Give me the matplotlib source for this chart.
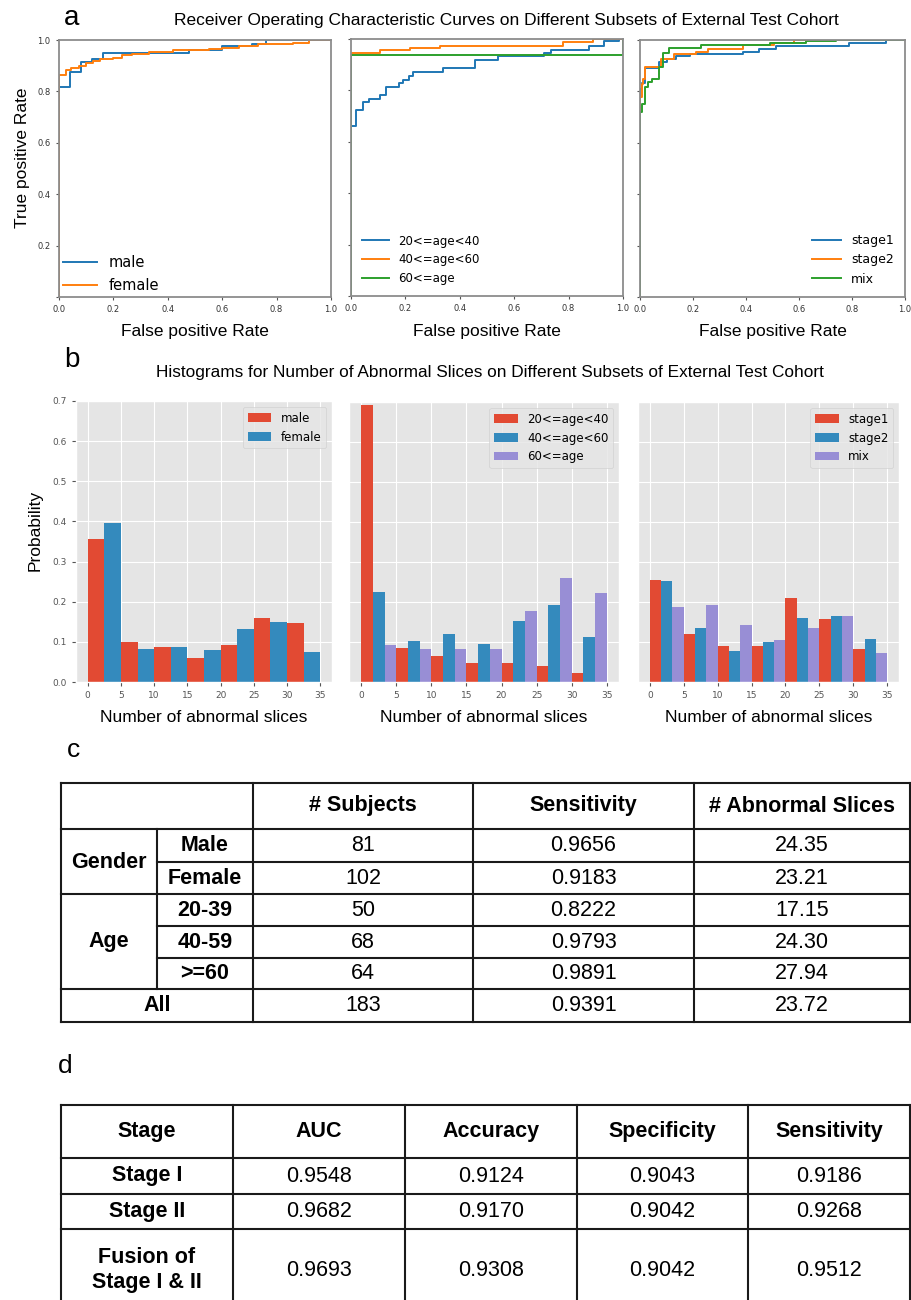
''' Composite figure: ROC curves, abnormal-slice histograms and two summary tables '''

import numpy as np
import matplotlib
matplotlib.use('Agg')
import matplotlib.pyplot as plt

W, H = 911, 1300
SANS = 'Liberation Sans'

### panel a : ROC curves (step corners)
roc_titles = 'Receiver Operating Characteristic Curves on Different Subsets of External Test Cohort'

male_fpr = [0, 0, 0.041, 0.08, 0.12, 0.16, 0.478, 0.6, 0.71, 0.76, 1.0]
male_tpr = [0, 0.817, 0.874, 0.916, 0.925, 0.951, 0.962, 0.975, 0.985, 1.0, 1.0]
female_fpr = [0, 0, 0.027, 0.045, 0.075, 0.1, 0.125, 0.15, 0.2, 0.23, 0.27, 0.33, 0.42,
              0.55, 0.6, 0.66, 0.73, 0.86, 0.92, 1.0]
female_tpr = [0, 0.865, 0.885, 0.89, 0.9, 0.91, 0.92, 0.925, 0.93, 0.94, 0.945, 0.955, 0.96,
              0.965, 0.97, 0.975, 0.985, 0.99, 1.0, 1.0]

age20_fpr = [0, 0, 0.02, 0.044, 0.068, 0.105, 0.13, 0.178, 0.19, 0.215, 0.227, 0.337, 0.456,
             0.54, 0.71, 0.735, 0.875, 0.93, 0.985, 1.0]
age20_tpr = [0, 0.662, 0.725, 0.753, 0.768, 0.783, 0.813, 0.829, 0.842, 0.857, 0.871, 0.887,
             0.919, 0.932, 0.945, 0.958, 0.974, 0.991, 1.0, 1.0]
age40_fpr = [0, 0, 0.107, 0.217, 0.327, 0.78, 0.89, 1.0]
age40_tpr = [0, 0.945, 0.956, 0.964, 0.974, 0.987, 1.0, 1.0]
age60_fpr = [0, 0, 1.0, 1.0]
age60_tpr = [0, 0.938, 0.938, 1.0]

stage1_fpr = [0, 0, 0.008, 0.02, 0.073, 0.1, 0.135, 0.19, 0.39, 0.45, 0.515, 0.79, 0.93, 1.0]
stage1_tpr = [0, 0.808, 0.834, 0.89, 0.916, 0.925, 0.938, 0.945, 0.955, 0.964, 0.977, 0.987,
              1.0, 1.0]
stage2_fpr = [0, 0, 0.008, 0.012, 0.02, 0.08, 0.13, 0.21, 0.255, 0.39, 0.505, 0.58, 1.0]
stage2_tpr = [0, 0.78, 0.83, 0.85, 0.896, 0.925, 0.945, 0.955, 0.964, 0.98, 0.99, 1.0, 1.0]
mix_fpr = [0, 0, 0.008, 0.017, 0.03, 0.045, 0.073, 0.085, 0.11, 0.23, 0.49, 0.625, 0.74, 1.0]
mix_tpr = [0, 0.72, 0.75, 0.818, 0.837, 0.847, 0.896, 0.948, 0.968, 0.981, 0.987, 0.997,
           1.0, 1.0]

### panel b : histograms (probability per bin of width 5)
hist_title = 'Histograms for Number of Abnormal Slices on Different Subsets of External Test Cohort'
bin_edges = [0, 5, 10, 15, 20, 25, 30, 35]

hist_male = [0.357, 0.099, 0.086, 0.061, 0.091, 0.160, 0.147]
hist_female = [0.397, 0.082, 0.086, 0.079, 0.133, 0.149, 0.074]

hist_age20 = [0.692, 0.084, 0.066, 0.047, 0.047, 0.041, 0.023]
hist_age40 = [0.225, 0.103, 0.120, 0.095, 0.152, 0.193, 0.113]
hist_age60 = [0.093, 0.083, 0.083, 0.083, 0.177, 0.261, 0.223]

hist_stage1 = [0.254, 0.119, 0.091, 0.091, 0.209, 0.157, 0.083]
hist_stage2 = [0.253, 0.136, 0.078, 0.099, 0.159, 0.166, 0.108]
hist_mix = [0.187, 0.193, 0.142, 0.105, 0.134, 0.164, 0.073]

### panel c : subgroup table
c_header = ['# Subjects', 'Sensitivity', '# Abnormal Slices']
c_groups = ['Gender', 'Age']
c_rows = ['Male', 'Female', '20-39', '40-59', '>=60', 'All']
c_subjects = ['81', '102', '50', '68', '64', '183']
c_sensitivity = ['0.9656', '0.9183', '0.8222', '0.9793', '0.9891', '0.9391']
c_slices = ['24.35', '23.21', '17.15', '24.30', '27.94', '23.72']

### panel d : stage table
d_header = ['Stage', 'AUC', 'Accuracy', 'Specificity', 'Sensitivity']
d_rows = ['Stage I', 'Stage II', 'Fusion of\nStage I & II']
d_auc = ['0.9548', '0.9682', '0.9693']
d_accuracy = ['0.9124', '0.9170', '0.9308']
d_specificity = ['0.9043', '0.9042', '0.9042']
d_sensitivity = ['0.9186', '0.9268', '0.9512']


def px_axes(fig, l, t, r, b):
    '''add axes from pixel box (left, top, right, bottom)'''
    return fig.add_axes([l / W, 1 - b / H, (r - l) / W, (b - t) / H])


def ftext(fig, x, y, s, **kw):
    '''figure text placed in pixel coordinates'''
    kw.setdefault('ha', 'center')
    kw.setdefault('va', 'center')
    return fig.text(x / W, 1 - y / H, s, **kw)


fig = plt.figure(figsize=(W / 100, H / 100), dpi=100)

# overlay for tables, in pixel coordinates
ov = fig.add_axes([0, 0, 1, 1])
ov.set_xlim(0, W)
ov.set_ylim(H, 0)
ov.axis('off')

# ---------------- a : ROC
roc_colors = ['#1f77b4', '#ff7f0e', '#2ca02c']
roc_boxes = [(59, 40, 331, 297), (351, 39, 623, 296), (640, 40, 905, 297)]
roc_sets = [
    [(male_fpr, male_tpr, 'male'), (female_fpr, female_tpr, 'female')],
    [(age20_fpr, age20_tpr, '20<=age<40'), (age40_fpr, age40_tpr, '40<=age<60'),
     (age60_fpr, age60_tpr, '60<=age')],
    [(stage1_fpr, stage1_tpr, 'stage1'), (stage2_fpr, stage2_tpr, 'stage2'),
     (mix_fpr, mix_tpr, 'mix')],
]
# legend location, font size, padding to axes
roc_legend = [('lower left', 10.5, 0.0), ('lower left', 8.5, 0.5), ('lower right', 9, 0.5)]

for i, (box, curves, (loc, fs, pad)) in enumerate(zip(roc_boxes, roc_sets, roc_legend)):
    ax = px_axes(fig, *box)
    for (fpr, tpr, lab), c in zip(curves, roc_colors):
        ax.plot(fpr, tpr, drawstyle='steps-post', color=c, lw=1.4, label=lab)
    ax.set_xlim(0, 1)
    ax.set_ylim(0, 1)
    for s in ax.spines.values():
        s.set_color('#8c8c8c')
        s.set_linewidth(1.3)
    ax.set_xticks(np.linspace(0, 1, 6))
    ax.set_xticklabels(['0.0', '0.2', '0.4', '0.6', '0.8', '1.0'])
    ax.set_yticks(np.linspace(0, 1, 6))
    if i == 0:
        ax.set_yticklabels(['', '0.2', '0.4', '0.6', '0.8', '1.0'])
    else:
        ax.set_yticklabels([])
        ax.tick_params(axis='y', length=0)
    ax.tick_params(labelsize=6, length=2.5, color='#555555', labelcolor='#333333')
    ax.legend(loc=loc, frameon=False, fontsize=fs, handlelength=2.3,
              borderaxespad=pad, borderpad=0.3 if i == 0 else 0.4)
    ftext(fig, (box[0] + box[2]) / 2, 332, 'False positive Rate', fontsize=12.5, family=SANS)

ftext(fig, 23, 158, 'True positive Rate', fontsize=12.5, family=SANS, rotation=90)
ftext(fig, 506, 21, roc_titles, fontsize=12.5, family=SANS)
ftext(fig, 72, 18, 'a', fontsize=20, family=SANS)

# ---------------- b : histograms
hist_boxes = [(76, 401, 332, 682), (349, 402, 619, 682), (638, 402, 899, 682)]
hist_sets = [
    [(hist_male, 'male'), (hist_female, 'female')],
    [(hist_age20, '20<=age<40'), (hist_age40, '40<=age<60'), (hist_age60, '60<=age')],
    [(hist_stage1, 'stage1'), (hist_stage2, 'stage2'), (hist_mix, 'mix')],
]

with plt.style.context('ggplot'):
    hist_colors = ['#E24A33', '#348ABD', '#988ED5']
    edges = np.array(bin_edges)
    for i, (box, series) in enumerate(zip(hist_boxes, hist_sets)):
        ax = px_axes(fig, *box)
        n = len(series)
        width = np.diff(edges) / n
        for k, (vals, lab) in enumerate(series):
            ax.bar(edges[:-1] + k * width, vals, width=width, align='edge',
                   color=hist_colors[k], label=lab, linewidth=0)
        ax.set_xlim(-1.75, 36.75)
        ax.set_ylim(0, 0.7)
        ax.set_xticks(edges)
        ax.set_yticks(np.arange(0, 0.71, 0.1))
        ax.tick_params(labelsize=6.5, colors='#555555', length=3)
        if i > 0:
            ax.tick_params(axis='y', labelleft=False, length=0)
        ax.legend(loc='upper right', fontsize=8.5)
        ftext(fig, (box[0] + box[2]) / 2, 717, 'Number of abnormal slices', fontsize=12.5, family=SANS)

ftext(fig, 35, 530, 'Probability', fontsize=12.5, family=SANS, rotation=90)
ftext(fig, 490, 373, hist_title, fontsize=12.4, family=SANS)
ftext(fig, 72, 360, 'b', fontsize=20, family=SANS)

# ---------------- c : subgroup table
lc = '#1a1a1a'
lw = 1.5
fs_t = 15.5
c_y = [783, 829, 862, 894, 926, 958, 989, 1022]
c_x = [61, 157, 253, 473, 694, 910]

for y in [c_y[0], c_y[1], c_y[3], c_y[6], c_y[7]]:
    ov.plot([c_x[0], c_x[-1]], [y, y], color=lc, lw=lw)
for y in [c_y[2], c_y[4], c_y[5]]:
    ov.plot([c_x[1], c_x[-1]], [y, y], color=lc, lw=lw)
for x in [c_x[0], c_x[2], c_x[3], c_x[4], c_x[5]]:
    ov.plot([x, x], [c_y[0], c_y[-1]], color=lc, lw=lw)
ov.plot([c_x[1], c_x[1]], [c_y[1], c_y[6]], color=lc, lw=lw)

for j, h in enumerate(c_header):
    ov.text((c_x[j + 2] + c_x[j + 3]) / 2, (c_y[0] + c_y[1]) / 2, h, ha='center', va='center',
            fontsize=fs_t, fontweight='bold', family=SANS)
ov.text((c_x[0] + c_x[1]) / 2, c_y[2], c_groups[0], ha='center', va='center',
        fontsize=fs_t, fontweight='bold', family=SANS)
ov.text((c_x[0] + c_x[1]) / 2, c_y[5] - 16, c_groups[1], ha='center', va='center',
        fontsize=fs_t, fontweight='bold', family=SANS)
for r, name in enumerate(c_rows):
    yc = (c_y[r + 1] + c_y[r + 2]) / 2
    xc = (c_x[0] + c_x[2]) / 2 if name == 'All' else (c_x[1] + c_x[2]) / 2
    ov.text(xc, yc, name, ha='center', va='center', fontsize=fs_t, fontweight='bold', family=SANS)
    for j, col in enumerate([c_subjects, c_sensitivity, c_slices]):
        ov.text((c_x[j + 2] + c_x[j + 3]) / 2, yc, col[r], ha='center', va='center',
                fontsize=fs_t, family=SANS)

ftext(fig, 73, 750, 'c', fontsize=19, family=SANS)

# ---------------- d : stage table
d_y = [1105, 1158, 1194, 1229, 1310]
d_x = [61, 233, 405, 577, 748, 910]

for y in d_y[:-1]:
    ov.plot([d_x[0], d_x[-1]], [y, y], color=lc, lw=lw)
for x in d_x:
    ov.plot([x, x], [d_y[0], H], color=lc, lw=lw)

for j, h in enumerate(d_header):
    ov.text((d_x[j] + d_x[j + 1]) / 2, (d_y[0] + d_y[1]) / 2, h, ha='center', va='center',
            fontsize=fs_t, fontweight='bold', family=SANS)
for r, name in enumerate(d_rows):
    yc = (d_y[r + 1] + d_y[r + 2]) / 2 if r < 2 else 1270
    ov.text((d_x[0] + d_x[1]) / 2, yc, name, ha='center', va='center', fontsize=fs_t,
            fontweight='bold', family=SANS, linespacing=1.25)
    for j, col in enumerate([d_auc, d_accuracy, d_specificity, d_sensitivity]):
        ov.text((d_x[j + 1] + d_x[j + 2]) / 2, yc, col[r], ha='center', va='center',
                fontsize=fs_t, family=SANS)

ftext(fig, 65, 1066, 'd', fontsize=19, family=SANS)

fig.savefig('out.png', dpi=100)
